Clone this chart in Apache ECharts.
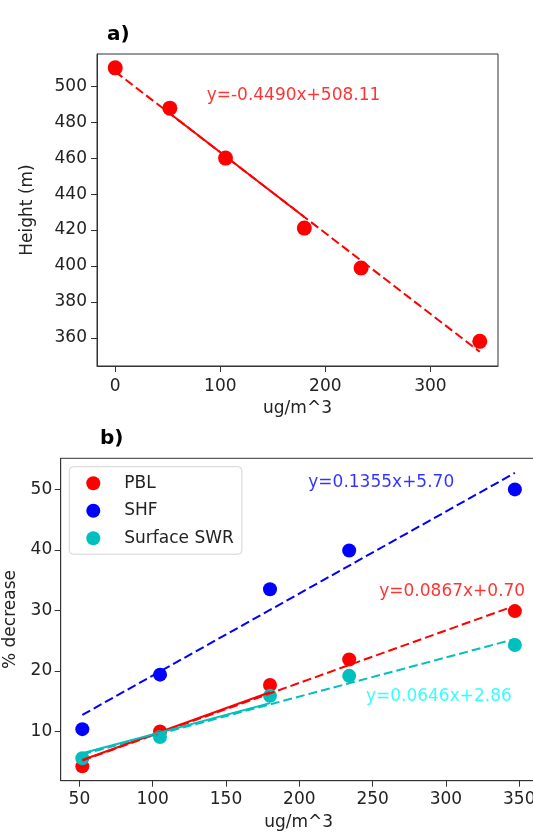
<!DOCTYPE html>
<html><head><meta charset="utf-8">
<script src="https://cdn.jsdelivr.net/npm/echarts@6/dist/echarts.min.js"></script>
<style>html,body{margin:0;padding:0;background:#fff}#c{width:533px;height:833px}</style>
</head><body><div id="c"></div>
<script>
// ---- Panel a data ----
const concA = [0, 52, 105, 180, 234, 347];
const heightA = [510.2, 487.8, 460.0, 421.1, 398.9, 358.1];
const fitA = [[0, 508.11], [347, 352.3]];
const fitASolid = [[52, 484.8], [180, 427.3]];
const eqTextA = 'y=-0.4490x+508.11';
const eqPosA = [87, 494.7];
const ticksAx = [0, 100, 200, 300];
const ticksAy = [360, 380, 400, 420, 440, 460, 480, 500];

// ---- Panel b data ----
const concB = [52, 105, 180, 234, 347];
const seriesNames = ['PBL', 'SHF', 'Surface SWR'];
const pbl = [4.25, 10.0, 17.7, 21.9, 29.9];
const shf = [10.4, 19.4, 33.5, 39.9, 50.0];
const swr = [5.6, 9.1, 15.9, 19.2, 24.3];
const fitPbl = [[52, 5.21], [347, 30.78]];
const fitShf = [[52, 12.75], [347, 52.72]];
const fitSwr = [[52, 6.22], [347, 25.28]];
const solidPbl = [[52, 5.3], [180, 16.5]];
const solidSwr = [[52, 6.4], [180, 14.7]];
const eqTextsB = ['y=0.0867x+0.70', 'y=0.1355x+5.70', 'y=0.0646x+2.86'];
const eqPosB = [[254.5, 33.2], [206.1, 51.2], [245.4, 15.8]];
const ticksBx = [50, 100, 150, 200, 250, 300, 350];
const ticksBy = [10, 20, 30, 40, 50];

const F = 'DejaVu Sans';
const TXT = '#222';
const AX = '#333';
const RED = '#ff0000', BLUE = '#0000ff', CYAN = '#00bfbf';

function pairs(xs, ys) { return xs.map((x, i) => [x, ys[i]]); }

function valAxis(gi, min, max, ticks, name, nameGap, margin) {
  return {
    gridIndex: gi, type: 'value', min: min, max: max,
    name: name, nameLocation: 'middle', nameGap: nameGap,
    nameTextStyle: { fontFamily: F, fontSize: 17, color: TXT },
    axisLine: { show: true, onZero: false, lineStyle: { color: AX, width: 1 } },
    axisTick: { show: true, length: 6, customValues: ticks, lineStyle: { color: AX, width: 1 } },
    axisLabel: { customValues: ticks, margin: margin, fontFamily: F, fontSize: 17, color: TXT },
    splitLine: { show: false }
  };
}

function fitLine(xi, yi, data, color, dashed) {
  return {
    type: 'line', xAxisIndex: xi, yAxisIndex: yi, data: data,
    symbol: 'none', showSymbol: false, silent: true, z: 5,
    lineStyle: { color: color, width: 2, type: dashed ? [9, 4] : 'solid' }
  };
}

function eqLabel(xi, yi, pos, text, color) {
  return {
    type: 'scatter', xAxisIndex: xi, yAxisIndex: yi, symbolSize: 0, silent: true, z: 6,
    data: [pos],
    label: { show: true, position: 'right', distance: 0, formatter: text,
      color: color, fontFamily: F, fontSize: 17 }
  };
}

const chart = echarts.init(document.getElementById('c'), null, { renderer: 'canvas' });
chart.setOption({
  animation: false,
  backgroundColor: '#fff',
  title: [
    { text: 'a)', left: 102, top: 20, textStyle: { fontFamily: F, fontSize: 20, fontWeight: 'bold', color: '#000' } },
    { text: 'b)', left: 95, top: 424, textStyle: { fontFamily: F, fontSize: 20, fontWeight: 'bold', color: '#000' } }
  ],
  grid: [
    { left: 97, top: 54, width: 401, height: 312, show: true, borderColor: AX, borderWidth: 1, backgroundColor: 'transparent', containLabel: false, outerBoundsMode: 'none' },
    { left: 60.7, top: 458.3, width: 475.8, height: 322.4, show: true, borderColor: AX, borderWidth: 1, backgroundColor: 'transparent', containLabel: false, outerBoundsMode: 'none' }
  ],
  xAxis: [
    valAxis(0, -17.35, 364.35, ticksAx, 'ug/m^3', 34, 12.5),
    valAxis(1, 37.25, 361.75, ticksBx, 'ug/m^3', 33, 10.5)
  ],
  yAxis: [
    valAxis(0, 344.4, 517.9, ticksAy, 'Height (m)', 61, 10),
    valAxis(1, 1.88, 55.14, ticksBy, '% decrease', 41.5, 8.5)
  ],
  legend: {
    orient: 'vertical', left: 69.3, top: 466.7,
    data: seriesNames, icon: 'circle', itemWidth: 14, itemHeight: 14, itemGap: 7.5,
    padding: [6.5, 8, 6, 17],
    borderColor: '#d5d5d5', borderWidth: 1, borderRadius: 4,
    backgroundColor: 'rgba(255,255,255,0.85)',
    textStyle: { fontFamily: F, fontSize: 17, color: TXT, lineHeight: 20, padding: [0, 0, 0, 19] }
  },
  series: [
    // panel a
    { type: 'scatter', name: 'Height', xAxisIndex: 0, yAxisIndex: 0, symbolSize: 15,
      itemStyle: { color: RED, opacity: 1 }, data: pairs(concA, heightA), z: 3 },
    fitLine(0, 0, fitA, RED, true),
    fitLine(0, 0, fitASolid, RED, false),
    eqLabel(0, 0, eqPosA, eqTextA, RED),
    // panel b
    { type: 'scatter', name: seriesNames[0], xAxisIndex: 1, yAxisIndex: 1, symbolSize: 14,
      itemStyle: { color: RED, opacity: 1 }, data: pairs(concB, pbl), z: 3 },
    { type: 'scatter', name: seriesNames[1], xAxisIndex: 1, yAxisIndex: 1, symbolSize: 14,
      itemStyle: { color: BLUE, opacity: 1 }, data: pairs(concB, shf), z: 3 },
    { type: 'scatter', name: seriesNames[2], xAxisIndex: 1, yAxisIndex: 1, symbolSize: 14,
      itemStyle: { color: CYAN, opacity: 1 }, data: pairs(concB, swr), z: 3 },
    fitLine(1, 1, fitShf, BLUE, true),
    fitLine(1, 1, fitPbl, RED, true),
    fitLine(1, 1, fitSwr, CYAN, true),
    fitLine(1, 1, solidPbl, RED, false),
    fitLine(1, 1, solidSwr, CYAN, false),
    eqLabel(1, 1, eqPosB[0], eqTextsB[0], RED),
    eqLabel(1, 1, eqPosB[1], eqTextsB[1], BLUE),
    eqLabel(1, 1, eqPosB[2], eqTextsB[2], '#00ffff')
  ]
});
</script></body></html>
